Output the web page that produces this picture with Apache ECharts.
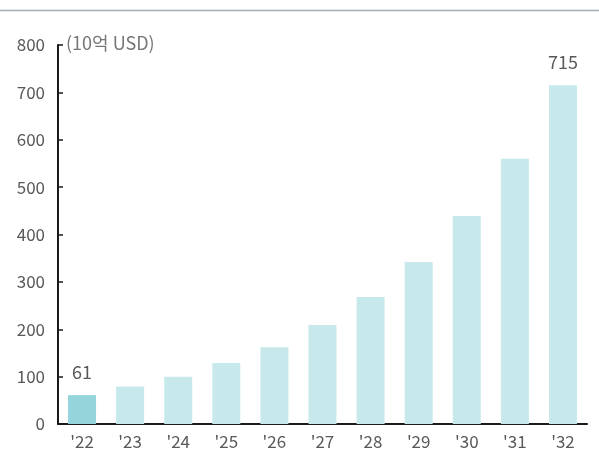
<!DOCTYPE html>
<html>
<head>
<meta charset="utf-8">
<script src="https://cdn.jsdelivr.net/npm/echarts@6/dist/echarts.min.js"></script>
<style>
  html, body { margin: 0; padding: 0; background: #fff; }
  #chart { width: 599px; height: 454px; }
</style>
</head>
<body>
<div id="chart"></div>
<script>
// Market size by year, in billions of USD
const years = ["'22", "'23", "'24", "'25", "'26", "'27", "'28", "'29", "'30", "'31", "'32"];
const values = [61, 79, 100, 129, 162, 209, 268, 342, 439, 560, 715];
// Only the first and last bars carry a value label
const labelledIdx = [0, 10];
const unitText = '(10억 USD)';

const FONT = '"Noto Sans CJK KR", "Noto Sans", sans-serif';
const TEXT = '#595959';

const chart = echarts.init(document.getElementById('chart'), null, { renderer: 'canvas' });

chart.setOption({
  animation: false,
  grid: { left: 58, right: 12, top: 45, bottom: 30, containLabel: false },
  xAxis: {
    type: 'category',
    data: years,
    axisLine: { lineStyle: { color: '#1a1a1a', width: 2 } },
    axisTick: { inside: true, length: 4, lineStyle: { color: '#1a1a1a', width: 1.5 } },
    axisLabel: { color: TEXT, fontFamily: FONT, fontSize: 17, margin: 9 }
  },
  yAxis: {
    type: 'value',
    min: 0,
    max: 800,
    interval: 100,
    splitLine: { show: false },
    axisLine: { show: true, lineStyle: { color: '#1a1a1a', width: 2 } },
    axisTick: { show: true, inside: true, length: 5, lineStyle: { color: '#1a1a1a', width: 1.5 } },
    axisLabel: { color: TEXT, fontFamily: FONT, fontSize: 17, margin: 13 }
  },
  series: [{
    type: 'bar',
    barWidth: 28,
    data: values.map((v, i) => ({
      value: v,
      itemStyle: { color: i === 0 ? '#93d5da' : '#c8e9eb' },
      label: {
        show: labelledIdx.includes(i),
        position: 'top',
        distance: 14,
        color: TEXT,
        fontFamily: FONT,
        fontSize: 18
      }
    }))
  }],
  graphic: [
    {
      type: 'line',
      shape: { x1: 0, y1: 10.5, x2: 599, y2: 10.5 },
      style: { stroke: '#a3adb8', lineWidth: 1.5 }
    },
    {
      type: 'text',
      left: 66,
      top: 34,
      style: { text: unitText, fill: '#777777', font: '18px ' + FONT }
    }
  ]
});
</script>
</body>
</html>
